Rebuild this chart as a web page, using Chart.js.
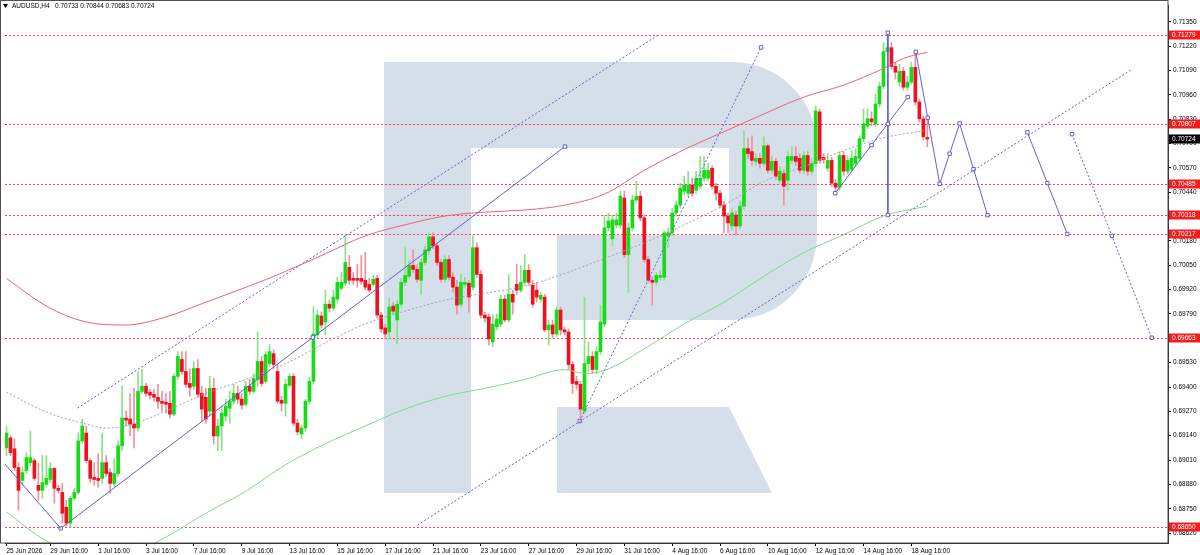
<!DOCTYPE html>
<html>
<head>
<meta charset="utf-8">
<title>AUDUSD H4</title>
<script src="https://cdn.jsdelivr.net/npm/chart.js@4.4.1/dist/chart.umd.min.js"></script>
<style>
  html, body { margin: 0; padding: 0; background: #fff; }
  #wrap { width: 1200px; height: 555px; position: relative; }
</style>
</head>
<body>
<div id="wrap"><canvas id="price-chart"></canvas></div>
<script>
// AUDUSD H4 candles (bar 0 = 25 Jun 20:00)
const symbol = 'AUDUSD,H4';

const opens = [
  0.69075, 0.69128, 0.69070, 0.68970, 0.68901, 0.68954, 0.68996, 0.69007, 0.68875, 0.68848, 0.68880, 0.68906,
  0.68965, 0.68859, 0.68837, 0.68758, 0.68673, 0.68806, 0.68837, 0.69112, 0.69154, 0.69007, 0.68917, 0.68912,
  0.68912, 0.68996, 0.68943, 0.68885, 0.68938, 0.69086, 0.69234, 0.69229, 0.69202, 0.69181, 0.69377, 0.69404,
  0.69372, 0.69361, 0.69345, 0.69324, 0.69319, 0.69313, 0.69255, 0.69457, 0.69547, 0.69483, 0.69419, 0.69404,
  0.69499, 0.69366, 0.69345, 0.69271, 0.69393, 0.69139, 0.69192, 0.69245, 0.69287, 0.69324, 0.69366, 0.69335,
  0.69308, 0.69404, 0.69377, 0.69441, 0.69536, 0.69430, 0.69525, 0.69578, 0.69483, 0.69329, 0.69313, 0.69409,
  0.69457, 0.69207, 0.69149, 0.69181, 0.69324, 0.69430, 0.69678, 0.69779, 0.69747, 0.69842, 0.69821, 0.69869,
  0.69927, 0.69954, 0.70039, 0.69980, 0.69980, 0.69980, 0.69970, 0.69948, 0.69948, 0.69980, 0.69784, 0.69715,
  0.69694, 0.69832, 0.69758, 0.69842, 0.69959, 0.69991, 0.70049, 0.70028, 0.69970, 0.70065, 0.70128, 0.70202,
  0.70154, 0.70065, 0.69975, 0.70081, 0.69986, 0.69933, 0.69842, 0.69948, 0.69954, 0.69933, 0.70144, 0.70001,
  0.69784, 0.69774, 0.69641, 0.69721, 0.69736, 0.69869, 0.69758, 0.69895, 0.69948, 0.69917, 0.69959, 0.70023,
  0.69943, 0.69917, 0.69869, 0.69880, 0.69705, 0.69731, 0.69683, 0.69811, 0.69705, 0.69694, 0.69520, 0.69430,
  0.69414, 0.69271, 0.69525, 0.69563, 0.69494, 0.69589, 0.69736, 0.70250, 0.70191, 0.70265, 0.70265, 0.70409,
  0.70107, 0.70250, 0.70398, 0.70419, 0.70303, 0.70081, 0.69970, 0.69959, 0.69986, 0.69986, 0.70207, 0.70223,
  0.70329, 0.70371, 0.70446, 0.70435, 0.70477, 0.70451, 0.70472, 0.70515, 0.70515, 0.70568, 0.70472, 0.70435,
  0.70371, 0.70313, 0.70260, 0.70318, 0.70260, 0.70366, 0.70673, 0.70657, 0.70605, 0.70621, 0.70594, 0.70688,
  0.70557, 0.70605, 0.70504, 0.70541, 0.70504, 0.70610, 0.70631, 0.70621, 0.70557, 0.70636, 0.70552, 0.70594,
  0.70869, 0.70626, 0.70568, 0.70610, 0.70488, 0.70467, 0.70636, 0.70552, 0.70562, 0.70594, 0.70621, 0.70726,
  0.70794, 0.70832, 0.70805, 0.70911, 0.71006, 0.71191, 0.71212, 0.71112, 0.71028, 0.71086, 0.71001, 0.71028,
  0.71107, 0.70922, 0.70832, 0.70733
];
const highs = [
  0.69192, 0.69139, 0.69123, 0.68996, 0.68975, 0.69049, 0.69165, 0.69018, 0.68991, 0.69034, 0.69034, 0.68996,
  0.68970, 0.68875, 0.68885, 0.68795, 0.68816, 0.68859, 0.69154, 0.69229, 0.69192, 0.69018, 0.68996, 0.69044,
  0.69154, 0.69034, 0.68965, 0.69018, 0.69112, 0.69404, 0.69271, 0.69366, 0.69393, 0.69483, 0.69494, 0.69419,
  0.69388, 0.69388, 0.69414, 0.69377, 0.69366, 0.69377, 0.69472, 0.69589, 0.69589, 0.69589, 0.69499, 0.69536,
  0.69547, 0.69404, 0.69393, 0.69457, 0.69446, 0.69229, 0.69298, 0.69335, 0.69377, 0.69414, 0.69404, 0.69366,
  0.69430, 0.69441, 0.69472, 0.69694, 0.69563, 0.69589, 0.69630, 0.69599, 0.69525, 0.69351, 0.69441, 0.69472,
  0.69472, 0.69229, 0.69197, 0.69335, 0.69451, 0.69827, 0.69811, 0.69800, 0.69917, 0.69864, 0.69917, 0.69986,
  0.70012, 0.70212, 0.70102, 0.70012, 0.70054, 0.70102, 0.70118, 0.69980, 0.69996, 0.69996, 0.69800, 0.69736,
  0.69874, 0.69853, 0.69864, 0.69980, 0.70144, 0.70076, 0.70133, 0.70054, 0.70086, 0.70154, 0.70223, 0.70223,
  0.70170, 0.70081, 0.70102, 0.70102, 0.70012, 0.69970, 0.70001, 0.69986, 0.69970, 0.70207, 0.70170, 0.70023,
  0.69800, 0.69789, 0.69784, 0.69789, 0.69890, 0.69890, 0.70001, 0.69917, 0.70054, 0.70049, 0.70107, 0.70054,
  0.69970, 0.69959, 0.69906, 0.69895, 0.69758, 0.69758, 0.69827, 0.69827, 0.69721, 0.69710, 0.69536, 0.69457,
  0.69430, 0.69880, 0.69641, 0.69589, 0.69615, 0.69837, 0.70318, 0.70329, 0.70318, 0.70329, 0.70446, 0.70446,
  0.70276, 0.70424, 0.70499, 0.70446, 0.70318, 0.70097, 0.69991, 0.70012, 0.70023, 0.70234, 0.70250, 0.70356,
  0.70393, 0.70488, 0.70525, 0.70552, 0.70515, 0.70552, 0.70631, 0.70631, 0.70594, 0.70583, 0.70488, 0.70451,
  0.70393, 0.70329, 0.70350, 0.70340, 0.70393, 0.70768, 0.70726, 0.70741, 0.70647, 0.70647, 0.70736, 0.70699,
  0.70631, 0.70621, 0.70578, 0.70562, 0.70662, 0.70683, 0.70683, 0.70647, 0.70657, 0.70657, 0.70621, 0.70900,
  0.70885, 0.70647, 0.70647, 0.70626, 0.70509, 0.70657, 0.70657, 0.70636, 0.70662, 0.70673, 0.70741, 0.70885,
  0.70885, 0.70869, 0.70964, 0.71028, 0.71239, 0.71292, 0.71239, 0.71134, 0.71123, 0.71107, 0.71059, 0.71134,
  0.71176, 0.70938, 0.70847, 0.70844
];
const lows = [
  0.69034, 0.69034, 0.68954, 0.68742, 0.68875, 0.68938, 0.68981, 0.68901, 0.68795, 0.68806, 0.68864, 0.68890,
  0.68779, 0.68832, 0.68673, 0.68657, 0.68652, 0.68795, 0.68827, 0.69101, 0.68996, 0.68890, 0.68875, 0.68864,
  0.68885, 0.68922, 0.68832, 0.68869, 0.68922, 0.69060, 0.69192, 0.69139, 0.69075, 0.69165, 0.69366, 0.69351,
  0.69335, 0.69324, 0.69287, 0.69271, 0.69260, 0.69234, 0.69245, 0.69441, 0.69467, 0.69398, 0.69351, 0.69388,
  0.69345, 0.69218, 0.69207, 0.69245, 0.69096, 0.69060, 0.69060, 0.69218, 0.69207, 0.69308, 0.69313, 0.69282,
  0.69298, 0.69361, 0.69366, 0.69404, 0.69404, 0.69419, 0.69510, 0.69504, 0.69313, 0.69271, 0.69245, 0.69398,
  0.69192, 0.69144, 0.69123, 0.69165, 0.69308, 0.69414, 0.69662, 0.69715, 0.69678, 0.69800, 0.69811, 0.69853,
  0.69917, 0.69943, 0.69948, 0.69948, 0.69933, 0.69948, 0.69917, 0.69906, 0.69938, 0.69768, 0.69694, 0.69657,
  0.69652, 0.69789, 0.69630, 0.69827, 0.69943, 0.69980, 0.70012, 0.69959, 0.69895, 0.70049, 0.70107, 0.70138,
  0.70049, 0.69959, 0.69959, 0.69970, 0.69906, 0.69789, 0.69827, 0.69933, 0.69800, 0.69917, 0.69986, 0.69768,
  0.69747, 0.69625, 0.69615, 0.69705, 0.69721, 0.69747, 0.69747, 0.69789, 0.69895, 0.69906, 0.69943, 0.69943,
  0.69827, 0.69853, 0.69853, 0.69694, 0.69625, 0.69662, 0.69668, 0.69678, 0.69678, 0.69494, 0.69366, 0.69388,
  0.69229, 0.69260, 0.69483, 0.69472, 0.69472, 0.69573, 0.69721, 0.70234, 0.70154, 0.70250, 0.70250, 0.70092,
  0.69906, 0.70234, 0.70382, 0.70287, 0.70065, 0.69959, 0.69837, 0.69943, 0.69970, 0.69970, 0.70144, 0.70207,
  0.70313, 0.70356, 0.70424, 0.70419, 0.70419, 0.70435, 0.70456, 0.70499, 0.70499, 0.70456, 0.70398, 0.70356,
  0.70223, 0.70223, 0.70239, 0.70212, 0.70244, 0.70350, 0.70621, 0.70583, 0.70583, 0.70568, 0.70578, 0.70541,
  0.70541, 0.70509, 0.70488, 0.70371, 0.70451, 0.70594, 0.70583, 0.70541, 0.70541, 0.70530, 0.70536, 0.70578,
  0.70594, 0.70594, 0.70552, 0.70472, 0.70446, 0.70451, 0.70530, 0.70536, 0.70552, 0.70578, 0.70605, 0.70710,
  0.70779, 0.70794, 0.70789, 0.70895, 0.70991, 0.71176, 0.71097, 0.71044, 0.71006, 0.70985, 0.70985, 0.71017,
  0.70906, 0.70816, 0.70720, 0.70683
];
const closes = [
  0.69154, 0.69049, 0.68970, 0.68848, 0.68943, 0.69023, 0.69023, 0.68912, 0.68848, 0.68890, 0.68912, 0.68965,
  0.68859, 0.68848, 0.68726, 0.68673, 0.68806, 0.68837, 0.69112, 0.69192, 0.69007, 0.68912, 0.68906, 0.68901,
  0.68996, 0.68938, 0.68885, 0.68938, 0.69086, 0.69234, 0.69223, 0.69202, 0.69181, 0.69377, 0.69404, 0.69366,
  0.69356, 0.69345, 0.69324, 0.69313, 0.69308, 0.69255, 0.69457, 0.69563, 0.69483, 0.69414, 0.69398, 0.69499,
  0.69361, 0.69282, 0.69229, 0.69393, 0.69139, 0.69192, 0.69260, 0.69298, 0.69324, 0.69366, 0.69335, 0.69303,
  0.69404, 0.69377, 0.69446, 0.69536, 0.69419, 0.69573, 0.69589, 0.69520, 0.69324, 0.69313, 0.69414, 0.69457,
  0.69207, 0.69160, 0.69181, 0.69324, 0.69430, 0.69683, 0.69784, 0.69731, 0.69842, 0.69821, 0.69880, 0.69959,
  0.69959, 0.70065, 0.69970, 0.69970, 0.69970, 0.69964, 0.69933, 0.69917, 0.69975, 0.69784, 0.69710, 0.69683,
  0.69827, 0.69805, 0.69842, 0.69959, 0.69996, 0.70049, 0.70028, 0.69975, 0.70065, 0.70133, 0.70202, 0.70154,
  0.70065, 0.69975, 0.70081, 0.69986, 0.69933, 0.69837, 0.69959, 0.69959, 0.69880, 0.70144, 0.70001, 0.69784,
  0.69768, 0.69657, 0.69736, 0.69763, 0.69869, 0.69758, 0.69895, 0.69853, 0.69917, 0.69959, 0.70023, 0.69959,
  0.69842, 0.69880, 0.69890, 0.69705, 0.69731, 0.69683, 0.69811, 0.69705, 0.69694, 0.69520, 0.69419, 0.69414,
  0.69282, 0.69525, 0.69563, 0.69494, 0.69589, 0.69747, 0.70250, 0.70287, 0.70292, 0.70292, 0.70419, 0.70107,
  0.70250, 0.70398, 0.70419, 0.70303, 0.70081, 0.69970, 0.69959, 0.69996, 0.69996, 0.70223, 0.70223, 0.70329,
  0.70371, 0.70462, 0.70477, 0.70477, 0.70435, 0.70515, 0.70515, 0.70557, 0.70557, 0.70472, 0.70435, 0.70371,
  0.70313, 0.70276, 0.70329, 0.70260, 0.70366, 0.70673, 0.70647, 0.70610, 0.70621, 0.70594, 0.70688, 0.70557,
  0.70605, 0.70525, 0.70552, 0.70472, 0.70631, 0.70631, 0.70605, 0.70557, 0.70636, 0.70552, 0.70594, 0.70874,
  0.70610, 0.70615, 0.70610, 0.70488, 0.70467, 0.70636, 0.70552, 0.70610, 0.70621, 0.70631, 0.70726, 0.70805,
  0.70832, 0.70816, 0.70911, 0.71006, 0.71191, 0.71212, 0.71112, 0.71081, 0.71086, 0.71001, 0.71028, 0.71107,
  0.70922, 0.70832, 0.70736, 0.70724
];

// time axis labels (bar index -> text)
const xTickBars = [0, 11, 23, 35, 47, 59, 71, 83, 95, 107, 119, 131, 143, 155, 167, 179, 191, 203, 215, 227];
const xTickLabels = ['25 Jun 2026', '29 Jun 16:00', '1 Jul 16:00', '3 Jul 16:00', '7 Jul 16:00', '9 Jul 16:00',
  '13 Jul 16:00', '15 Jul 16:00', '17 Jul 16:00', '21 Jul 16:00', '23 Jul 16:00', '27 Jul 16:00', '29 Jul 16:00',
  '31 Jul 16:00', '4 Aug 16:00', '6 Aug 16:00', '10 Aug 16:00', '12 Aug 16:00', '14 Aug 16:00', '18 Aug 16:00'];
const yTicks = [0.71350, 0.71220, 0.71090, 0.70960, 0.70830, 0.70700, 0.70570, 0.70440, 0.70310, 0.70180, 0.70050,
  0.69920, 0.69790, 0.69660, 0.69530, 0.69400, 0.69270, 0.69140, 0.69010, 0.68880, 0.68750, 0.68620];

// horizontal levels and last price
const levels = [0.71279, 0.70807, 0.70485, 0.70318, 0.70217, 0.69663, 0.68650];
const lastPrice = 0.70724;

// moving averages, sampled along the bars
const maRedBars = [0, 10, 20, 30, 40, 50, 60, 70, 80, 90, 100, 110, 120, 130, 140, 150, 160, 170, 180, 190, 200, 210, 220, 225, 230, 231];
const maRed = [0.69980, 0.69832, 0.69747, 0.69731, 0.69774, 0.69853, 0.69932, 0.70017, 0.70112, 0.70207, 0.70266, 0.70313,
  0.70334, 0.70345, 0.70371, 0.70430, 0.70557, 0.70668, 0.70763, 0.70858, 0.70948, 0.71012, 0.71101, 0.71154, 0.71183, 0.71186];
const maGreenBars = [0, 10, 20, 30, 40, 50, 60, 70, 80, 90, 100, 110, 120, 130, 140, 145, 150, 160, 170, 180, 190, 200, 210, 220, 231];
const maGreen = [0.68732, 0.68578, 0.68499, 0.68504, 0.68599, 0.68726, 0.68843, 0.68985, 0.69097, 0.69192, 0.69282, 0.69350,
  0.69393, 0.69440, 0.69493, 0.69472, 0.69488, 0.69604, 0.69737, 0.69853, 0.69991, 0.70118, 0.70213, 0.70313, 0.70366];
const maGrayBars = [0, 10, 20, 25, 30, 40, 50, 60, 70, 80, 90, 100, 110, 120, 130, 140, 150, 160, 170, 180, 190, 200, 210, 220, 230];
const maGray = [0.69372, 0.69266, 0.69202, 0.69181, 0.69192, 0.69271, 0.69366, 0.69440, 0.69525, 0.69636, 0.69737, 0.69805,
  0.69864, 0.69901, 0.69938, 0.70006, 0.70086, 0.70170, 0.70266, 0.70371, 0.70498, 0.70578, 0.70662, 0.70731, 0.70768];

// drawn objects: trend lines, channel, forecast path
const trendInBars = [-0.7, 13.6];
const trendInPrices = [0.68996, 0.68645];
const trendUpBars = [13.6, 76.85, 140.1];
const trendUpPrices = [0.68645, 0.69665, 0.70684];
const chanTopBars = [17.8, 163.6];
const chanTopPrices = [0.69287, 0.71281];
const chanLowBars = [103.1, 282.3];
const chanLowPrices = [0.68663, 0.71096];
const steepBars = [143.8, 189.3];
const steepPrices = [0.69218, 0.71213];
const spikeBars = [221.1, 221.1, 221.1];
const spikePrices = [0.71292, 0.70805, 0.70318];
const riseBars = [207.9, 217.0, 226.1];
const risePrices = [0.70435, 0.70692, 0.70948];
const waveABars = [228.1, 231.1, 234.1, 236.6, 239.1, 242.6, 246.1];
const waveAPrices = [0.71190, 0.70838, 0.70485, 0.70646, 0.70807, 0.70563, 0.70318];
const waveBBars = [256.1, 261.1, 266.1];
const waveBPrices = [0.70760, 0.70489, 0.70217];
const waveCBars = [267.3, 277.3, 287.3];
const waveCPrices = [0.70750, 0.70207, 0.69663];

const FONT = "'Liberation Sans', Arial, sans-serif";
const FONT_SIZE = 6.5;
const BLUE = '#6262cc';

function pts(xs, ys) {
    return xs.map((x, k) => ({ x: x, y: ys[k] }));
}

function blueLine(xs, ys, dotted, markers) {
    return {
        type: 'line',
        data: pts(xs, ys),
        borderColor: BLUE,
        borderWidth: 1,
        borderDash: dotted ? [2, 2] : [],
        pointStyle: 'rect',
        pointRadius: markers ? 2.4 : 0,
        pointBackgroundColor: '#ffffff',
        pointBorderColor: BLUE,
        pointBorderWidth: 1,
        tension: 0,
        order: 1
    };
}

function maLine(xs, ys, color, dotted) {
    return {
        type: 'line',
        data: pts(xs, ys),
        borderColor: color,
        borderWidth: 1,
        borderDash: dotted ? [2, 2] : [],
        pointRadius: 0,
        cubicInterpolationMode: 'monotone',
        order: 3
    };
}

const bars = opens.map((o, i) => i);
const bull = bars.map(i => closes[i] >= opens[i]);

// background logo, levels, price labels and the header line
const mtPlugin = {
    id: 'mtDecor',
    beforeDraw(chart) {
        const ctx = chart.ctx;
        ctx.save();
        ctx.fillStyle = '#ffffff';
        ctx.fillRect(0, 0, chart.width, chart.height);
        ctx.fillStyle = '#d5dfea';
        ctx.fillRect(384, 62, 87, 431);
        ctx.beginPath();
        ctx.moveTo(471, 62);
        ctx.lineTo(732, 62);
        ctx.arc(732, 147, 85, -Math.PI / 2, 0);
        ctx.lineTo(817, 235);
        ctx.arc(732, 235, 85, 0, Math.PI / 2);
        ctx.lineTo(557, 320);
        ctx.lineTo(557, 235);
        ctx.lineTo(729, 235);
        ctx.lineTo(729, 148);
        ctx.lineTo(471, 148);
        ctx.closePath();
        ctx.fill();
        ctx.beginPath();
        ctx.moveTo(557, 407);
        ctx.lineTo(729, 407);
        ctx.lineTo(772, 493);
        ctx.lineTo(557, 493);
        ctx.closePath();
        ctx.fill();
        ctx.restore();
    },
    beforeDatasetsDraw(chart) {
        const ctx = chart.ctx, area = chart.chartArea, ys = chart.scales.y;
        ctx.save();
        ctx.strokeStyle = '#ff3a5c';
        ctx.lineWidth = 1;
        ctx.setLineDash([2, 2]);
        levels.forEach(v => {
            const y = Math.round(ys.getPixelForValue(v)) + 0.5;
            ctx.beginPath();
            ctx.moveTo(area.left, y);
            ctx.lineTo(area.right, y);
            ctx.stroke();
        });
        ctx.restore();
    },
    afterDraw(chart) {
        const ctx = chart.ctx, area = chart.chartArea, ys = chart.scales.y;
        ctx.save();
        // frame
        ctx.strokeStyle = '#505050';
        ctx.lineWidth = 1;
        ctx.strokeRect(0.5, 0.5, area.right - 0.5, area.bottom - 0.5);
        // price tags
        ctx.font = FONT_SIZE + 'px ' + FONT;
        ctx.textBaseline = 'middle';
        ctx.textAlign = 'left';
        const tag = (v, bg) => {
            const y = Math.round(ys.getPixelForValue(v));
            ctx.fillStyle = bg;
            ctx.fillRect(area.right + 1, y - 4.5, chart.width - area.right - 1, 9);
            ctx.fillStyle = '#ffffff';
            ctx.fillText(v.toFixed(5), area.right + 4, y + 0.5);
        };
        levels.forEach(v => tag(v, '#f51c1c'));
        tag(lastPrice, '#000000');
        // header
        const n = opens.length - 1;
        ctx.fillStyle = '#000000';
        ctx.beginPath();
        ctx.moveTo(3, 4);
        ctx.lineTo(8, 4);
        ctx.lineTo(5.5, 8);
        ctx.closePath();
        ctx.fill();
        ctx.fillText(symbol + '   ' + [opens[n], highs[n], lows[n], closes[n]].map(v => v.toFixed(5)).join(' '), 12, 6.5);
        ctx.restore();
    }
};

Chart.defaults.font.family = FONT;
Chart.defaults.font.size = FONT_SIZE;
Chart.defaults.color = '#000000';

const ctx = document.getElementById('price-chart').getContext('2d');

const priceChart = new Chart(ctx, {
    type: 'bar',
    data: {
        datasets: [
            {
                type: 'bar',
                data: bars.map(i => ({ x: i, y: [lows[i], highs[i]] })),
                backgroundColor: bars.map(i => bull[i] ? '#86e486' : '#f4909c'),
                barThickness: 1,
                grouped: false,
                order: 6
            },
            {
                type: 'bar',
                data: bars.map(i => ({ x: i, y: [opens[i], closes[i]] })),
                backgroundColor: bars.map(i => bull[i] ? '#16dc16' : '#f0101e'),
                barThickness: 3,
                minBarLength: 1,
                grouped: false,
                order: 5
            },
            maLine(maRedBars, maRed, '#ef6278', false),
            maLine(maGreenBars, maGreen, '#7fd88c', false),
            maLine(maGrayBars, maGray, '#a4a4a4', true),
            blueLine(trendInBars, trendInPrices, false, false),
            blueLine(trendUpBars, trendUpPrices, false, true),
            blueLine(chanTopBars, chanTopPrices, true, false),
            blueLine(chanLowBars, chanLowPrices, true, false),
            blueLine(steepBars, steepPrices, true, true),
            blueLine(spikeBars, spikePrices, false, true),
            blueLine(riseBars, risePrices, false, true),
            blueLine(waveABars, waveAPrices, false, true),
            blueLine(waveBBars, waveBPrices, false, true),
            blueLine(waveCBars, waveCPrices, true, true)
        ]
    },
    options: {
        responsive: true,
        maintainAspectRatio: false,
        devicePixelRatio: 1,
        animation: false,
        events: [],
        layout: { padding: { left: 1, top: 1, right: 0, bottom: 0 } },
        plugins: {
            legend: { display: false },
            tooltip: { enabled: false },
            title: { display: false }
        },
        scales: {
            x: {
                type: 'linear',
                offset: false,
                min: -0.375,
                max: 291.375,
                afterBuildTicks: s => { s.ticks = xTickBars.map(v => ({ value: v })); },
                afterFit: s => { s.height = 12; },
                ticks: {
                    autoSkip: false,
                    maxRotation: 0,
                    align: 'start',
                    padding: 1,
                    callback: v => xTickLabels[xTickBars.indexOf(v)]
                },
                grid: { offset: false, drawOnChartArea: false, tickLength: 3, color: '#000000' },
                border: { color: '#202020' }
            },
            y: {
                type: 'linear',
                position: 'right',
                beginAtZero: false,
                min: 0.68567,
                max: 0.71435,
                afterBuildTicks: s => { s.ticks = yTicks.map(v => ({ value: v })); },
                afterFit: s => { s.width = 32; },
                ticks: {
                    padding: 2,
                    autoSkip: false,
                    callback: v => Number(v).toFixed(5)
                },
                grid: { drawOnChartArea: false, tickLength: 3, color: '#000000' },
                border: { color: '#202020' }
            }
        }
    },
    plugins: [mtPlugin]
});
</script>
</body>
</html>
